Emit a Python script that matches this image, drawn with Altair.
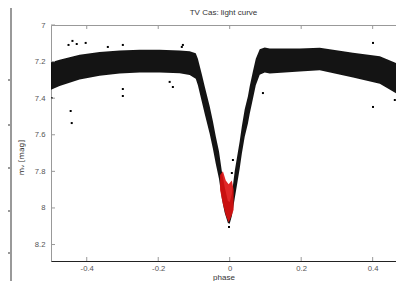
import altair as alt
import pandas as pd

# ---- data ----
# central trend of the dense point band (phase vs V magnitude) and its half-width
band_phase = [-0.5, -0.476, -0.448, -0.42, -0.364, -0.308, -0.252, -0.196, -0.14, -0.112,
              -0.095, -0.089, -0.078, -0.07, -0.056, -0.047, -0.039, -0.03, -0.022, -0.014,
              -0.005, 0.0, 0.006, 0.014, 0.02, 0.028, 0.034, 0.042, 0.051, 0.056,
              0.065, 0.073, 0.084, 0.098, 0.112, 0.196, 0.252, 0.345, 0.42, 0.476, 0.5]
band_mid = [7.279, 7.262, 7.246, 7.230, 7.213, 7.202, 7.197, 7.197, 7.202, 7.208,
            7.224, 7.257, 7.344, 7.410, 7.519, 7.601, 7.683, 7.765, 7.874, 7.956,
            8.022, 8.027, 7.984, 7.874, 7.803, 7.710, 7.628, 7.536, 7.464, 7.410,
            7.328, 7.257, 7.202, 7.191, 7.197, 7.191, 7.186, 7.219, 7.246, 7.301, 7.322]
band_half = [0.075, 0.072, 0.070, 0.068, 0.065, 0.063, 0.062, 0.062, 0.062, 0.065,
             0.070, 0.072, 0.075, 0.075, 0.075, 0.075, 0.075, 0.075, 0.075, 0.070,
             0.060, 0.060, 0.060, 0.075, 0.075, 0.075, 0.075, 0.075, 0.075, 0.075,
             0.075, 0.072, 0.070, 0.068, 0.068, 0.063, 0.062, 0.068, 0.075, 0.085, 0.090]

# isolated points away from the band
out_phase = [-0.445, -0.442, -0.440, -0.428, -0.403, -0.451, -0.341, -0.299, -0.299, -0.299,
             -0.134, -0.131, -0.159, -0.168, 0.093, 0.401, 0.401, 0.006, 0.009, -0.002,
             -0.498, 0.462]
out_mag = [7.470, 7.536, 7.087, 7.104, 7.098, 7.109, 7.120, 7.109, 7.350, 7.388,
           7.120, 7.109, 7.339, 7.311, 7.372, 7.448, 7.098, 7.809, 7.738, 8.104,
           7.399, 7.410]

# red points near minimum (extent of the red cluster)
red_phase = [-0.027, -0.019, -0.011, -0.003, 0.006, 0.011]
red_top = [7.82, 7.80, 7.85, 7.87, 7.85, 7.90]
red_bottom = [7.90, 7.98, 8.04, 8.08, 8.04, 8.01]

x_ticks = [-0.4, -0.2, 0.0, 0.2, 0.4]
y_ticks = [7.0, 7.2, 7.4, 7.6, 7.8, 8.0, 8.2]

# ---- tables ----
XMIN, XMAX = -0.5, 0.4653
YMIN, YMAX = 7.0, 8.29
band = pd.DataFrame({"phase": band_phase,
                     "mag": [m - h for m, h in zip(band_mid, band_half)],
                     "mag2": [m + h for m, h in zip(band_mid, band_half)]})
outl = pd.DataFrame({"phase": out_phase, "mag": out_mag})
red = pd.DataFrame({"phase": red_phase, "mag": red_top, "mag2": red_bottom})

dx = 4 * (1.0 / 357)
dy = 4 * (0.2 / 36.6)
yt = pd.DataFrame({"mag": y_ticks, "phase": [XMIN] * len(y_ticks), "phase2": [XMIN + dx] * len(y_ticks)})
xt_top = pd.DataFrame({"phase": x_ticks, "mag": [YMIN] * len(x_ticks), "mag2": [YMIN + dy] * len(x_ticks)})
xt_bot = pd.DataFrame({"phase": x_ticks, "mag": [YMAX] * len(x_ticks), "mag2": [YMAX - dy] * len(x_ticks)})

FONT = "Liberation Sans"
xs = alt.Scale(domain=[XMIN, XMAX], nice=False, zero=False)
ys = alt.Scale(domain=[YMIN, YMAX], reverse=True, nice=False, zero=False)

X = alt.X("phase:Q", scale=xs, title="phase",
          axis=alt.Axis(values=x_ticks, ticks=False, grid=False, domainColor="#222",
                        labelPadding=3,
                        labelExpr="(datum.value < 0 ? '-' : '') + format(abs(datum.value), '~g')",
                        titleY=16, titleBaseline="middle"))
Y = alt.Y("mag:Q", scale=ys, title="mᵥ [mag]",
          axis=alt.Axis(values=y_ticks, ticks=False, grid=False, domain=False,
                        labelPadding=6, labelExpr="format(datum.value, '~g')",
                        titleFont="DejaVu Sans", titleFontSize=7.5,
                        titleX=-30, titleY=132, titleAlign="center", titleBaseline="middle"))

band_l = alt.Chart(band).mark_area(color="#000", opacity=0.92, clip=True).encode(x=X, y=Y, y2="mag2:Q")
out_l = alt.Chart(outl).mark_square(color="#000", size=4, opacity=1, clip=True).encode(x=X, y=Y)
red_l = alt.Chart(red).mark_area(color="#dd1111", opacity=0.9, clip=True).encode(x=X, y=Y, y2="mag2:Q")
yt_l = alt.Chart(yt).mark_rule(color="#999", strokeWidth=1).encode(x=X, x2="phase2:Q", y=Y)
xtt_l = alt.Chart(xt_top).mark_rule(color="#999", strokeWidth=1).encode(x=X, y=Y, y2="mag2:Q")
xtb_l = alt.Chart(xt_bot).mark_rule(color="#999", strokeWidth=1).encode(x=X, y=Y, y2="mag2:Q")

# grey frame fragment at the far left of the picture
deco = alt.Data(values=[{"k": 1}])
vline = alt.Chart(deco).mark_rule(color="#999", strokeWidth=2).encode(
    x=alt.value(-40), y=alt.value(-17), y2=alt.value(256))
hsegs = [alt.Chart(deco).mark_rule(color="#999", strokeWidth=2).encode(
    x=alt.value(-43), x2=alt.value(-40), y=alt.value(v)) for v in (55, 100, 143, 186, 228)]

chart = alt.layer(band_l, out_l, red_l, yt_l, xtt_l, xtb_l, vline, *hsegs).properties(
    width=345, height=236,
    title=alt.TitleParams("TV Cas: light curve", fontSize=8, font=FONT, color="#333",
                          fontWeight="normal", anchor="middle", offset=8, frame="group", dy=17.5),
    autosize=alt.AutoSizeParams(type="none"),
    padding={"left": 43, "top": 17, "right": 0, "bottom": 20},
).configure_view(stroke="#999", strokeWidth=1).configure_axis(
    labelFont=FONT, labelFontSize=7.7, labelColor="#555",
    titleFont=FONT, titleFontSize=8, titleColor="#333", titleFontWeight="normal",
)

chart.save("out.html", embed_options={"renderer": "svg", "actions": False})
